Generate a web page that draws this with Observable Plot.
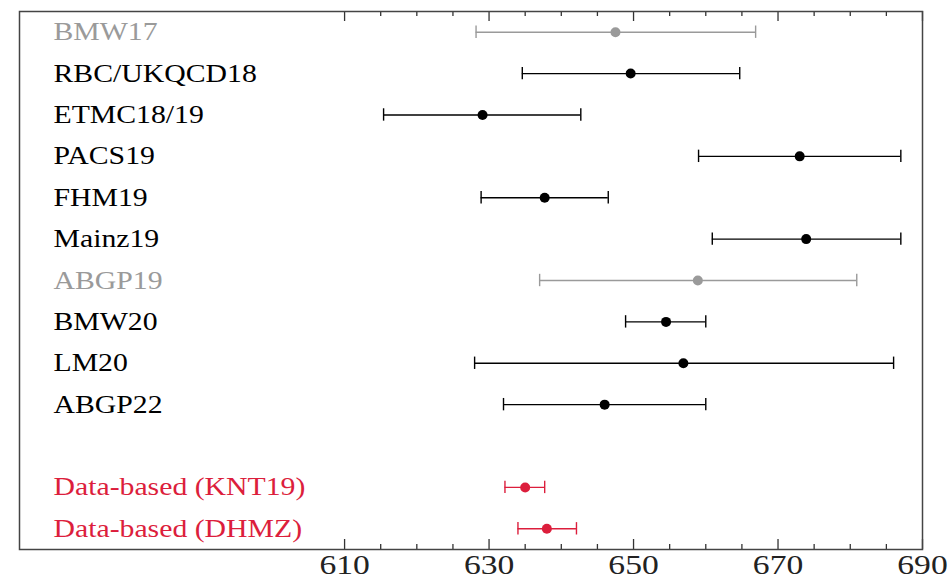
<!DOCTYPE html>
<html>
<head>
<meta charset="utf-8">
<script src="https://cdn.jsdelivr.net/npm/d3@7"></script>
<script src="https://cdn.jsdelivr.net/npm/@observablehq/plot@0.6"></script>
<style>
  html, body { margin: 0; padding: 0; background: #fff; }
  #chart svg { display: block; }
</style>
</head>
<body>
<div id="chart"></div>
<script>
// Data
const names   = ["BMW17", "RBC/UKQCD18", "ETMC18/19", "PACS19", "FHM19", "Mainz19", "ABGP19", "BMW20", "LM20", "ABGP22", " ", "Data-based (KNT19)", "Data-based (DHMZ)"];
const centers = [647.5, 649.6, 629.1, 673.0, 637.7, 673.9, 658.9, 654.5, 656.9, 646.0, null, 635.0, 638.0];
const lows    = [628.2, 634.6, 615.4, 659.0, 628.9, 660.9, 637.0, 648.9, 628.0, 632.0, null, 632.2, 634.0];
const highs   = [666.9, 664.7, 642.7, 687.0, 646.5, 687.0, 680.9, 660.0, 686.0, 660.0, null, 637.7, 642.1];
const groups  = ["gray", "black", "black", "black", "black", "black", "gray", "black", "black", "black", "none", "red", "red"];
const xDomain = [565, 690];
const majorTicks = [610, 630, 650, 670, 690];
const minorTicks = [615, 620, 625, 635, 640, 645, 655, 660, 665, 675, 680, 685];

const palette = {gray: "#9a9a9a", black: "#000000", red: "#dc1e3c", none: "none"};

const rows = names.map((n, i) => ({name: n, c: centers[i], lo: lows[i], hi: highs[i], g: groups[i]}));
const pts = rows.filter(d => d.c != null);

const W = 948, H = 585;
const mL = 19, mR = 26, mT = 11, mB = 36;
const frameH = H - mT - mB;
const font = "'Liberation Serif', 'DejaVu Serif', serif";

const chart = Plot.plot({
  width: W,
  height: H,
  marginLeft: mL,
  marginRight: mR,
  marginTop: mT,
  marginBottom: mB,
  style: {fontFamily: font, background: "#fff"},
  x: {domain: xDomain, axis: null},
  y: {domain: names, axis: null, padding: 0, round: false},
  marks: [
    // error bar lines
    Plot.ruleY(pts, {y: "name", x1: "lo", x2: "hi", stroke: d => palette[d.g], strokeWidth: 1.4}),
    // caps
    Plot.tickX(pts, {x: "lo", y: "name", stroke: d => palette[d.g], strokeWidth: 1.4, insetTop: 14.5, insetBottom: 14.5}),
    Plot.tickX(pts, {x: "hi", y: "name", stroke: d => palette[d.g], strokeWidth: 1.4, insetTop: 14.5, insetBottom: 14.5}),
    // central values
    Plot.dot(pts, {x: "c", y: "name", r: 5, fill: d => palette[d.g], stroke: "none"}),
    // labels
    Plot.text(pts, {y: "name", text: "name", frameAnchor: "left", dx: 34, textAnchor: "start",
      fill: d => palette[d.g], fontSize: 25, fontFamily: font, className: "rowlabel"}),
    // bottom ticks
    Plot.ruleX(majorTicks, {x: d => d, insetTop: frameH - 10, stroke: "#333", strokeWidth: 1.3}),
    Plot.ruleX(minorTicks, {x: d => d, insetTop: frameH - 5, stroke: "#333", strokeWidth: 1.3}),
    // top ticks
    Plot.ruleX(majorTicks, {x: d => d, insetBottom: frameH - 10, stroke: "#333", strokeWidth: 1.3}),
    Plot.ruleX(minorTicks, {x: d => d, insetBottom: frameH - 5, stroke: "#333", strokeWidth: 1.3}),
    // tick labels
    Plot.text(majorTicks, {x: d => d, text: d => String(d), frameAnchor: "bottom", dy: 24,
      fontSize: 28, fill: "#222", fontFamily: font, className: "ticklabel"}),
    Plot.frame({stroke: "#444", strokeWidth: 1.5})
  ]
});

// widen glyphs horizontally to mimic the wide Computer Modern face of the original
function stretch(sel, k) {
  chart.querySelectorAll(sel).forEach(t => {
    const tr = t.getAttribute("transform") || "";
    const x = t.getAttribute("x");
    let pre = "";
    if (x != null && isFinite(+x) && +x !== 0) {
      pre = ` translate(${+x},0)`;
      t.removeAttribute("x");
    }
    t.setAttribute("transform", `${tr}${pre} scale(${k},1)`);
  });
}
stretch(".rowlabel text", 1.19);
stretch(".ticklabel text", 1.2);

document.getElementById("chart").appendChild(chart);
</script>
</body>
</html>
